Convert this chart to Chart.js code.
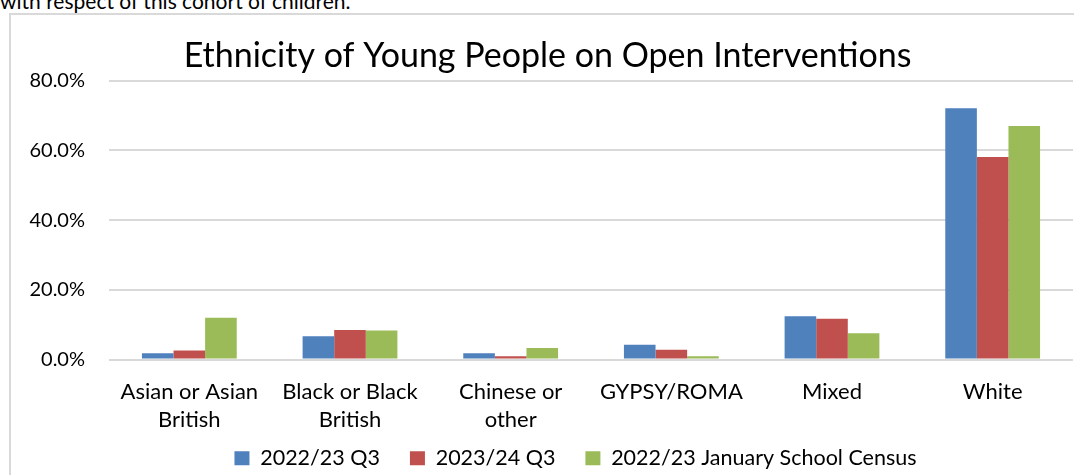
<!DOCTYPE html>
<html>
<head>
<meta charset="utf-8">
<script src="https://cdn.jsdelivr.net/npm/chart.js@4.4.0/dist/chart.umd.min.js"></script>
<style>
  body { margin: 0; background: #fff; width: 1074px; height: 475px; overflow: hidden; position: relative; font-family: Lato, sans-serif; }
  .intro { position: absolute; left: 0; top: -12px; font-size: 21px; color: #000; white-space: nowrap; }
  .frame { position: absolute; left: 9px; top: 13px; width: 1100px; height: 500px; border: 2px solid #d9d9d9; box-sizing: border-box; }
  #graficoEtnia { position: absolute; left: 0; top: 0; }
</style>
</head>
<body>
<div class="intro">with respect of this cohort of children.</div>
<div class="frame"></div>
<canvas id="graficoEtnia" width="1074" height="481"></canvas>
<script>
// categorias (eixo x)
const categorias = [
    ['Asian or Asian', 'British'],
    ['Black or Black', 'British'],
    ['Chinese or', 'other'],
    'GYPSY/ROMA',
    'Mixed',
    'White'
];

// valores em %
const q3_2022 = [1.8, 6.7, 1.8, 4.2, 12.4, 72.1];
const q3_2023 = [2.6, 8.5, 0.9, 2.8, 11.7, 58.1];
const censo2022 = [12.0, 8.3, 3.3, 0.9, 7.5, 67.0];

const nomesSeries = ['2022/23 Q3', '2023/24 Q3', '2022/23 January School Census'];
const marcasY = [0, 20, 40, 60, 80];

const fonte = 'Lato, sans-serif';

// legenda um pouco deslocada para a direita, como no original
const deslocaLegenda = {
    id: 'deslocaLegenda',
    afterLayout(chart) {
        chart.legend.left += 28;
        chart.legend.right += 28;
    }
};

const ctx = document.getElementById('graficoEtnia').getContext('2d');

new Chart(ctx, {
    type: 'bar',
    data: {
        labels: categorias,
        datasets: [
            { label: nomesSeries[0], data: q3_2022, backgroundColor: '#4F81BD' },
            { label: nomesSeries[1], data: q3_2023, backgroundColor: '#C0504D' },
            { label: nomesSeries[2], data: censo2022, backgroundColor: '#9BBB59' }
        ]
    },
    options: {
        responsive: false,
        animation: false,
        categoryPercentage: 0.59,
        barPercentage: 1,
        layout: { padding: { top: 14, right: 1, bottom: 2, left: 22 } },
        plugins: {
            title: {
                display: true,
                text: 'Ethnicity of Young People on Open Interventions',
                color: '#000',
                font: { family: fonte, size: 34, weight: 'normal' },
                padding: { top: 22, bottom: 4 }
            },
            legend: {
                position: 'bottom',
                labels: {
                    color: '#000',
                    font: { family: fonte, size: 21.5 },
                    boxWidth: 15,
                    boxHeight: 14,
                    padding: 30
                }
            },
            tooltip: { enabled: false }
        },
        scales: {
            y: {
                min: marcasY[0],
                max: marcasY[marcasY.length - 1],
                afterBuildTicks: scale => { scale.ticks = marcasY.map(v => ({ value: v })); },
                afterFit: scale => { scale.width = 87; },
                ticks: {
                    color: '#000',
                    font: { family: fonte, size: 20 },
                    padding: 24,
                    callback: v => v.toFixed(1) + '%'
                },
                grid: { color: '#d9d9d9', lineWidth: 2, drawTicks: false },
                border: { display: false }
            },
            x: {
                // altura fixa: os rótulos de duas linhas descem até perto da legenda
                afterFit: scale => {
                    scale.height = 58;
                    scale._computeLabelArea = () => undefined; // não cortar a 2a linha
                },
                ticks: {
                    color: '#000',
                    font: { family: fonte, size: 22, lineHeight: 1.27 },
                    padding: 18,
                    maxRotation: 0,
                    autoSkip: false
                },
                grid: { display: false, drawTicks: false },
                border: { display: false }
            }
        }
    },
    plugins: [deslocaLegenda]
});
</script>
</body>
</html>
